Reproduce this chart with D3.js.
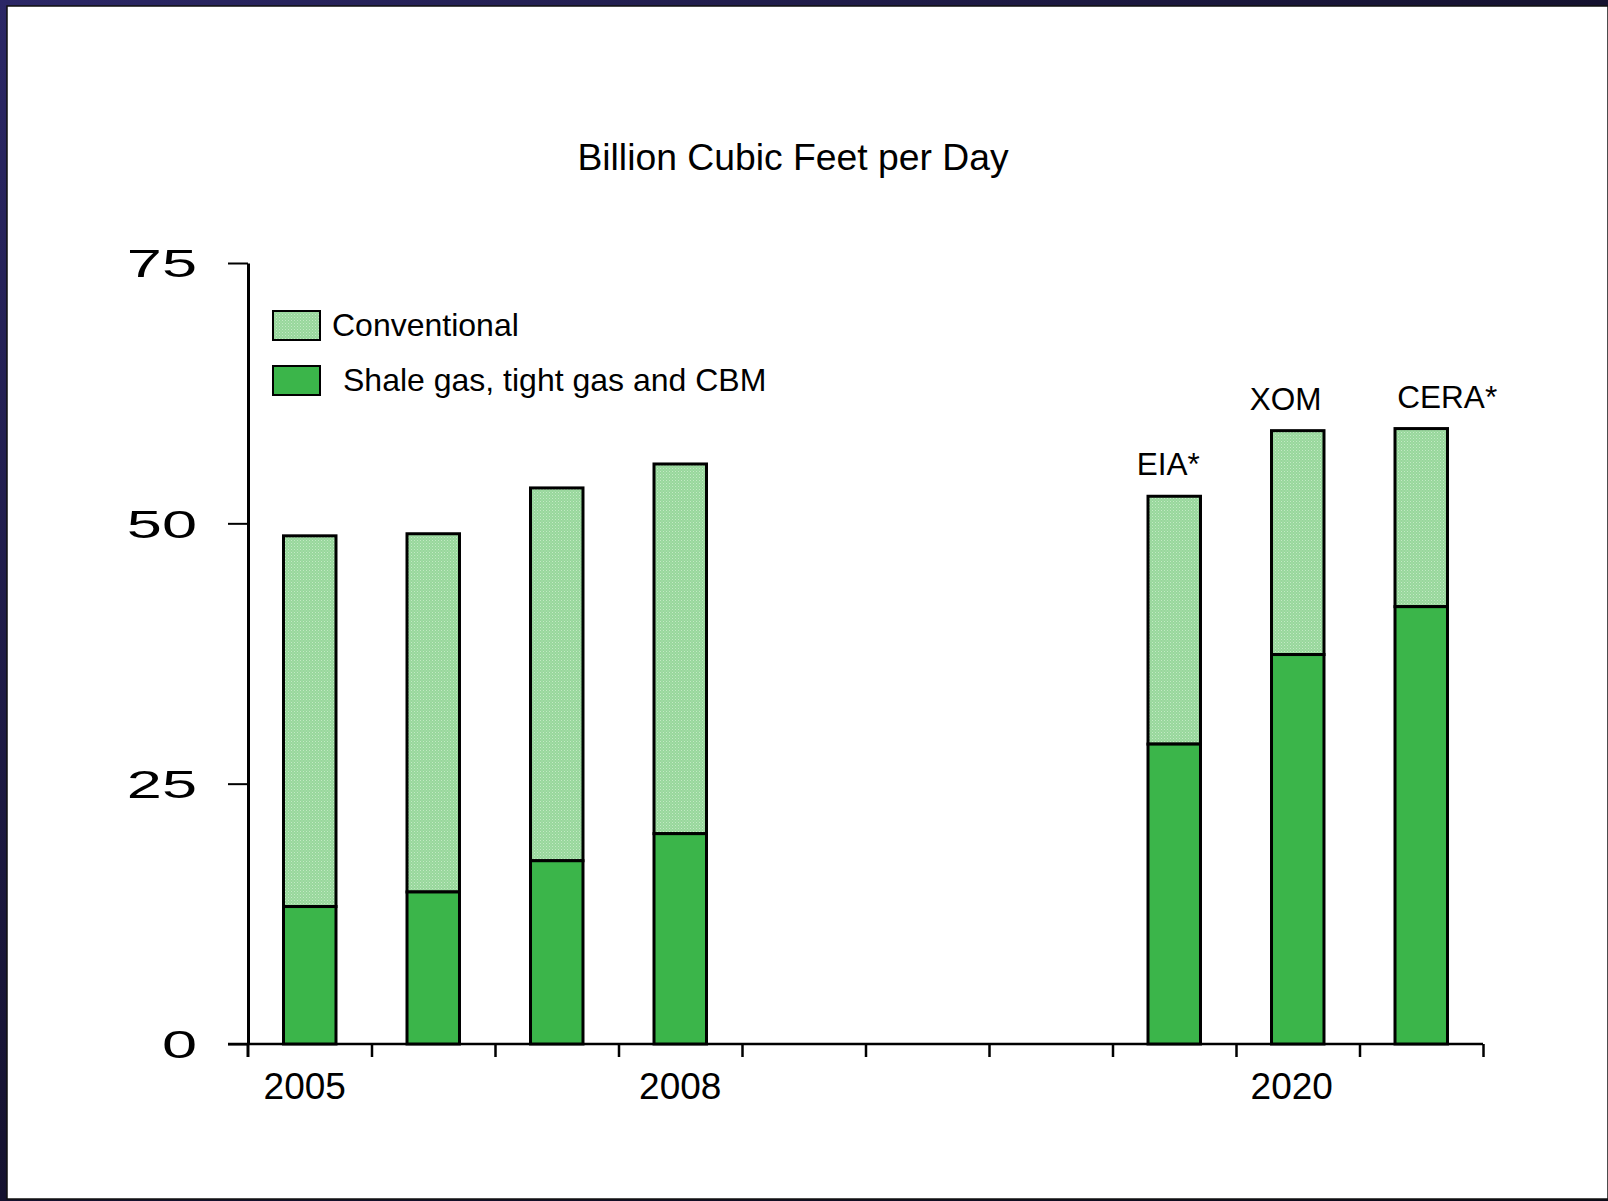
<!DOCTYPE html>
<html>
<head>
<meta charset="utf-8">
<script src="https://cdn.jsdelivr.net/npm/d3@7"></script>
<style>
  html, body { margin: 0; padding: 0; background: #14112e; }
  svg { display: block; }
  text { font-family: Arial, "Liberation Sans", sans-serif; fill: #000; }
</style>
</head>
<body>
<svg id="chart" width="1608" height="1201"></svg>
<script>
// Gas production, billion cubic feet per day
const slots = ["2005", "2006", "2007", "2008", "gap1", "gap2", "gap3", "EIA*", "XOM", "CERA*"];
const categories = ["2005", "2006", "2007", "2008", "EIA*", "XOM", "CERA*"];
const shale = [13.2, 14.6, 17.6, 20.2, 28.8, 37.4, 42.0];
const conventional = [35.6, 34.4, 35.8, 35.5, 23.8, 21.5, 17.1];
const barLabels = ["", "", "", "", "EIA*", "XOM", "CERA*"];
const xLabelSlots = ["2005", "2008", "XOM"];
const xLabels = ["2005", "2008", "2020"];
const yTicks = [0, 25, 50, 75];
const seriesNames = ["Conventional", "Shale gas, tight gas and CBM"];
const title = "Billion Cubic Feet per Day";

// label nudges (px)
const labelDx = [0, 0, 0, 0, -6, -12, 26];
const xLabelDx = [-5, 0, -6];

const W = 1608, H = 1201;
const svg = d3.select("#chart");
const defs = svg.append("defs");

// dark slide frame
const grad = defs.append("linearGradient").attr("id", "frame")
  .attr("x1", 0).attr("y1", 0).attr("x2", 1).attr("y2", 1);
grad.append("stop").attr("offset", "0%").attr("stop-color", "#2b2766");
grad.append("stop").attr("offset", "50%").attr("stop-color", "#15122f");
grad.append("stop").attr("offset", "100%").attr("stop-color", "#0b0a18");
svg.append("rect").attr("width", W).attr("height", H).attr("fill", "url(#frame)");
svg.append("rect").attr("x", 7).attr("y", 6).attr("width", W - 7).attr("height", H - 8)
  .attr("fill", "#fff").attr("stroke", "#111").attr("stroke-width", 1.5);

// dotted light-green fill for conventional gas
const pat = defs.append("pattern").attr("id", "dots")
  .attr("patternUnits", "userSpaceOnUse").attr("width", 3).attr("height", 3);
pat.append("rect").attr("width", 3).attr("height", 3).attr("fill", "#97d79c");
pat.append("rect").attr("x", 0).attr("y", 0).attr("width", 1).attr("height", 1).attr("fill", "#c4eac4");
pat.append("rect").attr("x", 1.5).attr("y", 1.5).attr("width", 1).attr("height", 1).attr("fill", "#b6e4b6");

const fills = ["url(#dots)", "#3bb54a"];

// scales
const x0 = 248, x1 = 1483, yTop = 263, yBase = 1044;
const x = d3.scaleBand().domain(slots).range([x0, x1])
  .paddingInner(0.575).paddingOuter(0.2875);
const y = d3.scaleLinear().domain([0, 75]).range([yBase, yTop]);

// title
svg.append("text").attr("x", 793).attr("y", 170)
  .attr("text-anchor", "middle").style("font-size", "37.3px").text(title);

// y axis
const yAxis = svg.append("g").attr("transform", `translate(${x0},0)`)
  .call(d3.axisLeft(y).tickValues(yTicks).tickSizeInner(20).tickSizeOuter(0).tickFormat(d3.format("d")));
yAxis.select(".domain").attr("stroke", "#000").attr("stroke-width", 3);
yAxis.selectAll(".tick line").attr("stroke", "#000").attr("stroke-width", 2);
yAxis.selectAll(".tick text")
  .attr("x", 0).attr("dy", "0.36em")
  .attr("text-anchor", "end")
  .attr("transform", "translate(-51,0) scale(1.66,1)")
  .style("font-family", "Arial, 'Liberation Sans', sans-serif")
  .style("font-size", "38px").attr("fill", "#000");
// vertical axis continues below the baseline as the first x tick
svg.append("line").attr("x1", x0).attr("x2", x0).attr("y1", yBase).attr("y2", yBase + 13)
  .attr("stroke", "#000").attr("stroke-width", 3);

// x axis: ticks sit on slot boundaries
const xb = d3.scaleLinear().domain([0, slots.length]).range([x0, x1]);
const xAxis = svg.append("g").attr("transform", `translate(0,${yBase})`)
  .call(d3.axisBottom(xb).tickValues(d3.range(1, slots.length + 1)).tickSizeInner(13).tickSizeOuter(0).tickFormat(""));
xAxis.select(".domain").attr("stroke", "#000").attr("stroke-width", 2.5)
  .attr("d", `M${x0 - 20},0H${x1}`);
xAxis.selectAll(".tick line").attr("stroke", "#000").attr("stroke-width", 2.5);

svg.append("g").selectAll("text").data(xLabels).join("text")
  .attr("x", (d, i) => x(xLabelSlots[i]) + x.bandwidth() / 2 + xLabelDx[i])
  .attr("y", 1099)
  .attr("text-anchor", "middle")
  .style("font-size", "37px")
  .text(d => d);

// stacked bars
const rows = categories.map((c, i) => ({ c, shale: shale[i], conv: conventional[i], label: barLabels[i], dx: labelDx[i] }));
const bars = svg.append("g");
bars.selectAll("rect.conv").data(rows).join("rect").attr("class", "conv")
  .attr("x", d => x(d.c)).attr("width", x.bandwidth())
  .attr("y", d => y(d.shale + d.conv))
  .attr("height", d => y(d.shale) - y(d.shale + d.conv))
  .attr("fill", fills[0]).attr("stroke", "#000").attr("stroke-width", 3);
bars.selectAll("rect.shale").data(rows).join("rect").attr("class", "shale")
  .attr("x", d => x(d.c)).attr("width", x.bandwidth())
  .attr("y", d => y(d.shale))
  .attr("height", d => y(0) - y(d.shale))
  .attr("fill", fills[1]).attr("stroke", "#000").attr("stroke-width", 3);

// forecast source labels
svg.append("g").selectAll("text").data(rows.filter(d => d.label)).join("text")
  .attr("x", d => x(d.c) + x.bandwidth() / 2 + d.dx)
  .attr("y", d => y(d.shale + d.conv) - 21)
  .attr("text-anchor", "middle")
  .style("font-size", "31.5px")
  .text(d => d.label);

// legend
const legend = svg.append("g").attr("transform", "translate(273,311)");
const li = legend.selectAll("g").data(seriesNames).join("g")
  .attr("transform", (d, i) => `translate(0,${i * 55})`);
li.append("rect").attr("width", 47).attr("height", 29)
  .attr("fill", (d, i) => fills[i]).attr("stroke", "#000").attr("stroke-width", 2);
li.append("text")
  .attr("x", (d, i) => i === 0 ? 59 : 70)
  .attr("y", 25)
  .style("font-size", "32px")
  .text(d => d);
</script>
</body>
</html>
